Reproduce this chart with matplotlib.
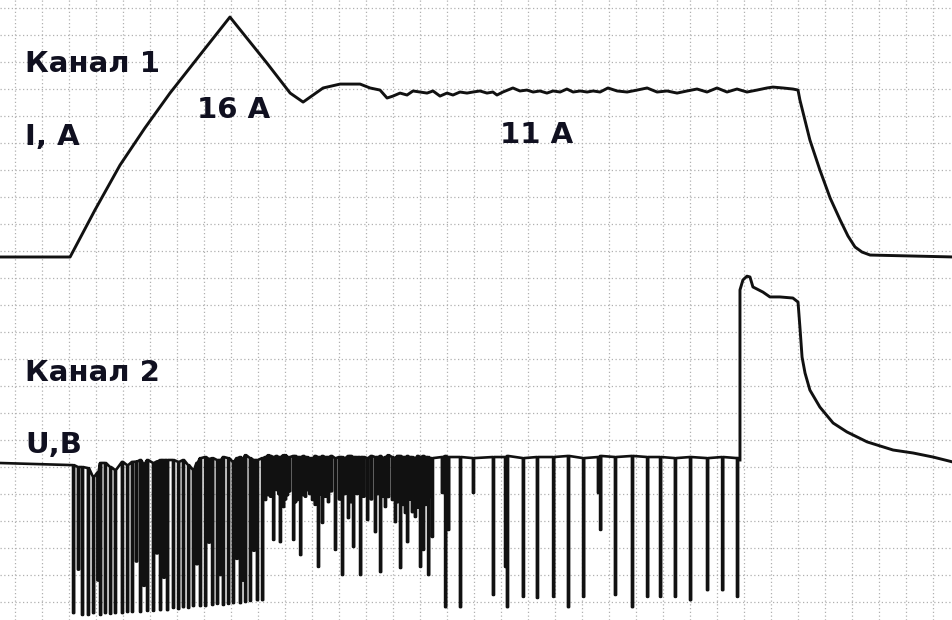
import numpy as np
import matplotlib.pyplot as plt

# everything is in screen divisions: time along x, level along y (0 = bottom grid line)
amp_per_div = 1.8      # channel 1 scale, A per division
ch1_zero = 12.78       # channel 1 zero level, divisions

# channel 1: current, A
ch1_t = [-0.6, 2.04, 2.96, 3.89, 4.81, 5.74, 6.85, 7.96, 9.33, 10.19, 10.67,
         11.41, 12.04, 12.78, 13.15, 13.52, 13.78,
         14.0, 14.26, 14.52, 14.74, 15.0, 15.26, 15.48, 15.74, 16.0, 16.22,
         16.48, 16.74, 16.96, 17.22, 17.48, 17.7, 17.85, 18.07, 18.44, 18.7,
         18.96, 19.19, 19.44, 19.7, 19.93, 20.19, 20.44, 20.67, 20.93, 21.19,
         21.41, 21.67, 21.96, 22.3, 22.67, 23.04, 23.41, 23.78, 24.15, 24.52,
         24.89, 25.26, 25.63, 26.0, 26.37, 26.74, 27.11, 27.48, 27.85, 28.07,
         28.44, 28.81, 29.0,
         29.07, 29.44, 29.81, 30.19, 30.56, 30.85, 31.11, 31.37, 31.67, 34.8]
ch1_i = [0, 0, 3.13, 6.13, 8.6, 10.93, 13.47, 16.0, 12.93, 10.93, 10.33,
         11.27, 11.53, 11.53, 11.27, 11.13, 10.6,
         10.73, 10.93, 10.8, 11.07, 11.0, 10.93, 11.07, 10.73, 10.93, 10.8,
         11.0, 10.93, 11.0, 11.07, 10.93, 11.0, 10.8, 11.0, 11.27, 11.07,
         11.13, 11.0, 11.07, 10.93, 11.07, 11.0, 11.2, 11.0, 11.07, 11.0,
         11.07, 11.0, 11.27, 11.07, 11.0, 11.13, 11.27, 11.0, 11.07, 10.93,
         11.07, 11.2, 11.0, 11.27, 11.0, 11.2, 11.0, 11.13, 11.27, 11.33,
         11.27, 11.2, 11.13,
         10.47, 7.8, 5.8, 3.93, 2.47, 1.4, 0.67, 0.33, 0.13, 0]

# channel 2: voltage spikes (time, level before the spike, lowest level)
sp_t = [2.15, 2.48, 2.70, 2.89, 3.15, 3.33, 3.52, 3.70, 3.96, 4.15, 4.33,
        4.63, 4.89, 5.11, 5.37, 5.63, 5.85, 6.04, 6.22, 6.41, 6.59, 6.85,
        7.04, 7.30, 7.48, 7.70, 7.89, 8.07, 8.33, 8.52, 8.70, 8.96, 9.15,
        2.33, 3.05, 4.48, 4.76, 5.24, 5.5, 6.72, 7.17, 7.59, 8.2, 8.43, 8.83,
        9.26, 9.37, 9.56, 9.67, 9.81, 9.93, 10.07, 10.30, 10.44, 10.56, 10.67,
        10.81, 11.0, 11.22, 11.37, 11.59, 11.85, 12.11, 12.33, 12.52, 12.78,
        13.04, 13.33, 13.52, 13.70, 13.81, 13.96, 14.07, 14.26, 14.44, 14.52,
        14.70, 14.81, 15.0, 15.11, 15.30, 15.44,
        9.45, 9.75, 10.0, 10.15, 10.37, 10.74, 10.9, 11.1, 11.3, 11.48, 11.7,
        12.0, 12.2, 12.43, 12.65, 12.9, 13.18, 13.42, 13.62, 14.15, 14.35,
        14.6, 14.9, 15.2, 15.37,
        15.81, 15.93, 16.04, 16.48, 16.96, 17.70, 18.15, 18.22, 18.81, 19.33,
        19.93, 20.48, 21.04, 21.59, 21.67, 22.22, 22.85, 23.41, 23.89, 24.44,
        25.0, 25.63, 26.19, 26.74]
sp_top = [5.07, 5.0, 4.96, 4.63, 5.15, 5.15, 5.0, 4.89, 5.19, 5.07, 5.19,
          5.26, 5.26, 5.15, 5.26, 5.26, 5.26, 5.19, 5.26, 5.07, 4.89, 5.33,
          5.37, 5.33, 5.26, 5.37, 5.33, 5.19, 5.37, 5.44, 5.33, 5.26, 5.33,
          5.0, 4.8, 5.2, 5.1, 5.2, 5.26, 5.15, 5.3, 5.26, 5.33, 5.3, 5.26,
          5.37, 5.44, 5.37, 5.41, 5.37, 5.44, 5.37, 5.41, 5.37, 5.37, 5.41,
          5.37, 5.33, 5.37, 5.41, 5.37, 5.33, 5.37, 5.41, 5.37, 5.37,
          5.33, 5.37, 5.41, 5.37, 5.44, 5.37, 5.33, 5.41, 5.37, 5.41,
          5.37, 5.33, 5.37, 5.41, 5.37, 5.33,
          5.41, 5.37, 5.44, 5.37, 5.41, 5.37, 5.33, 5.41, 5.37, 5.37, 5.41,
          5.37, 5.33, 5.41, 5.37, 5.37, 5.41, 5.37, 5.33, 5.41, 5.37,
          5.37, 5.41, 5.37, 5.33,
          5.37, 5.41, 5.37, 5.37, 5.33, 5.37, 5.37, 5.41, 5.33, 5.37,
          5.37, 5.41, 5.33, 5.37, 5.41, 5.37, 5.41, 5.37, 5.37, 5.33,
          5.37, 5.33, 5.37, 5.33]
sp_bot = [-0.41, -0.48, -0.48, -0.41, -0.48, -0.41, -0.44, -0.41, -0.41, -0.37, -0.37,
          -0.37, -0.33, -0.33, -0.30, -0.30, -0.22, -0.26, -0.19, -0.22, -0.15, -0.15,
          -0.15, -0.11, -0.07, -0.11, -0.07, -0.04, -0.04, 0.0, 0.04, 0.07, 0.07,
          1.2, 0.8, 1.5, 0.6, 1.8, 0.9, 1.4, 2.2, 1.0, 1.6, 0.8, 1.9,
          3.78, 3.96, 2.30, 4.15, 2.22, 3.52, 3.96, 2.30, 3.78, 1.74, 3.96,
          4.15, 3.78, 1.30, 2.93, 3.70, 1.93, 1.0, 3.11, 2.04, 1.0,
          3.04, 2.59, 1.11, 3.52, 3.89, 3.78, 2.96, 1.26, 3.30, 2.22,
          3.33, 3.15, 1.30, 1.93, 1.0, 2.41,
          3.9, 4.0, 3.8, 4.1, 3.7, 3.9, 4.0, 3.6, 4.0, 3.9, 4.1,
          3.8, 4.0, 3.7, 4.0, 3.9, 3.8, 4.0, 3.9, 3.7, 3.6,
          3.8, 3.5, 3.6, 3.9,
          4.04, -0.19, 2.67, -0.19, 4.04, 0.26, 1.30, -0.19, 0.19, 0.15,
          0.19, -0.19, 0.19, 4.04, 2.67, 0.26, -0.19, 0.19, 0.19, 0.19,
          0.07, 0.44, 0.44, 0.19]

# channel 2: final pulse
tail_t = [26.85, 26.85, 26.96, 27.11, 27.22, 27.33, 27.70, 27.96, 28.33, 28.81,
          29.0, 29.07, 29.15, 29.26, 29.44, 29.81, 30.30, 30.81, 31.56, 32.52,
          33.26, 34.0, 34.8]
tail_u = [5.26, 11.56, 11.93, 12.07, 12.04, 11.67, 11.48, 11.30, 11.30, 11.26,
          11.11, 10.19, 9.07, 8.48, 7.85, 7.22, 6.63, 6.30, 5.93, 5.63,
          5.52, 5.37, 5.17]

labels = ["Канал 1", "I, A", "16 A", "11 A", "Канал 2", "U,B"]
label_t = [0.37, 0.37, 6.74, 17.96, 0.37, 0.37]
label_v = [19.63, 16.93, 17.93, 17.0, 8.2, 5.52]

fig = plt.figure(figsize=(9.53, 6.2), dpi=100)
ax = fig.add_axes([0, 0, 1, 1])
ax.set_xlim(-0.556, 34.74)
ax.set_ylim(-0.667, 22.3)
ax.axis('off')

# dotted screen grid
for t in range(35):
    ax.axvline(t, color='#b0b0b0', lw=0.9, ls=(0, (1, 2)), zorder=0)
for v in range(23):
    ax.axhline(v, color='#b0b0b0', lw=0.9, ls=(0, (1, 2)), zorder=0)

ax.plot(ch1_t, ch1_zero + np.array(ch1_i) / amp_per_div,
        color='#111111', lw=2.1, solid_joinstyle='round')

# channel 2 as one trace: drop down at each spike and come back
order = np.argsort(sp_t, kind='stable')
w = 0.04
xs = [-0.6]
ys = [5.15]
for k in order:
    t, top, bot = sp_t[k], sp_top[k], sp_bot[k]
    xs += [t, t, t + w, t + w]
    ys += [top, bot, bot, top]
ax.plot(xs, ys, color='#111111', lw=1.9)
ax.plot(tail_t, tail_u, color='#111111', lw=2.1, solid_joinstyle='round')

for s, t, v in zip(labels, label_t, label_v):
    ax.text(t, v, s, fontsize=21, fontweight='bold', color='#101020',
            ha='left', va='baseline', family='DejaVu Sans')

fig.savefig('out.png', dpi=100)
